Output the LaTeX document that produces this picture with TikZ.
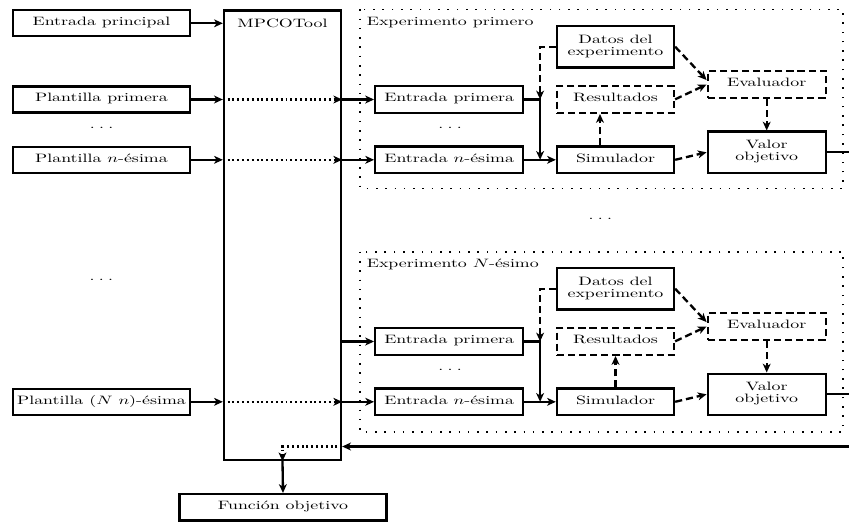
\documentclass[tikz,border=0pt]{standalone}
\usepackage{graphicx}
\usetikzlibrary{arrows.meta,calc}
\newdimen\pxu \pxu=0.56pt
\newcommand\tx[1]{\scalebox{1}[0.68]{\begin{tabular}{@{}c@{}}#1\end{tabular}}}
\newcommand\tdots{.\kern2.4pt.\kern2.4pt.}
\begin{document}
\begin{tikzpicture}[x=0.56pt,y=-0.56pt,
  box/.style={draw, line width=1.3pt, inner sep=0pt, font=\fontsize{10}{10}\selectfont},
  dbox/.style={box, dash pattern=on 4pt off 2.2pt},
  txt/.style={inner sep=0pt, font=\fontsize{10}{10}\selectfont},
  sz/.style 2 args={minimum width=#1*\pxu, minimum height=#2*\pxu},
  plain/.style={line width=1.3pt},
  conn/.style={plain, -{Stealth[length=4.9pt,width=4.4pt,inset=1.4pt]}},
  dconn/.style={conn, dash pattern=on 4pt off 2.2pt},
  dotconn/.style={conn, dash pattern=on 1.1pt off 1.6pt},
  frame/.style={line width=0.9pt, dash pattern=on 0.9pt off 4.3pt},
]
\useasboundingbox (0,0) rectangle (849,522);

% left column
\node[box, sz={177}{26}] (ep) at (101.5,23.3) {\tx{Entrada principal}};
\node[box, sz={177}{26}] (pp) at (101.5,99.5) {\tx{Plantilla primera}};
\node[txt] (ld1) at (101.5,126) {\tx{\tdots}};
\node[box, sz={177}{26}] (pn) at (101.5,159.8) {\tx{Plantilla $n$-ésima}};
\node[txt] (ld2) at (101.3,278.5) {\tx{\tdots}};
\node[box, sz={177}{26}] (pN) at (101.5,401.8) {\tx{Plantilla ($N$~$n$)-ésima}};

% MPCOTool
\node[box, sz={117}{449.5}] (mp) at (282.5,235.3) {};
\node[txt] (mpt) at (282.5,25) {\tx{MPCOTool}};
\node[box, sz={207}{26.4}] (fo) at (283,507.3) {\tx{Función objetivo}};

% experiment 1
\draw[frame] (360,9.3) rectangle (843,188.3);
\node[txt, anchor=west] (t1) at (366.5,23.3) {\tx{Experimento primero}};
\node[box, sz={148}{26.5}] (e1a) at (449.2,99.5) {\tx{Entrada primera}};
\node[txt] (e1dots) at (450,126) {\tx{\tdots}};
\node[box, sz={148}{26.5}] (e1b) at (449.2,159.8) {\tx{Entrada $n$-ésima}};
\node[box, sz={117}{41.3}] (e1d) at (615.5,46.7) {\tx{Datos del\\experimento}};
\node[dbox, sz={117}{27}] (e1r) at (615.5,99.3) {\tx{Resultados}};
\node[box, sz={117}{26.5}] (e1s) at (615.5,159.8) {\tx{Simulador}};
\node[dbox, sz={118}{27}] (e1ev) at (766.7,84.5) {\tx{Evaluador}};
\node[box, sz={118}{41.3}] (e1v) at (766.7,152.3) {\tx{Valor\\objetivo}};

% middle dots
\node[txt] (mdots) at (600.3,217.5) {\tx{\tdots}};

% experiment 2
\draw[frame] (360,251.7) rectangle (843,431.7);
\node[txt, anchor=west] (t2) at (366.5,265.3) {\tx{Experimento $N$-ésimo}};
\node[box, sz={148}{26.5}] (e2a) at (449.2,341.5) {\tx{Entrada primera}};
\node[txt] (e2dots) at (450,368) {\tx{\tdots}};
\node[box, sz={148}{26.5}] (e2b) at (449.2,401.8) {\tx{Entrada $n$-ésima}};
\node[box, sz={117}{41.3}] (e2d) at (615.5,288.7) {\tx{Datos del\\experimento}};
\node[dbox, sz={117}{27}] (e2r) at (615.5,341.3) {\tx{Resultados}};
\node[box, sz={117}{26.5}] (e2s) at (615.5,401.8) {\tx{Simulador}};
\node[dbox, sz={118}{27}] (e2ev) at (766.7,326.5) {\tx{Evaluador}};
\node[box, sz={118}{41.3}] (e2v) at (766.7,394.3) {\tx{Valor\\objetivo}};

\coordinate (fb) at (849,446.5);

% left inputs into MPCOTool
\draw[conn] (ep.east) -- (ep.east -| mp.west);
\draw[conn] (pp.east) -- (pp.east -| mp.west);
\draw[dotconn] (pp.east -| mp.west) -- (pp.east -| mp.east);
\draw[conn] (pp.east -| mp.east) -- (e1a.west);
\draw[conn] (pn.east) -- (pn.east -| mp.west);
\draw[dotconn] (pn.east -| mp.west) -- (pn.east -| mp.east);
\draw[conn] (pn.east -| mp.east) -- (e1b.west);
\draw[conn] (mp.east |- e2a.west) -- (e2a.west);
\draw[conn] (pN.east) -- (pN.east -| mp.west);
\draw[dotconn] (pN.east -| mp.west) -- (pN.east -| mp.east);
\draw[conn] (pN.east -| mp.east) -- (e2b.west);

% experiment 1 connectors
\coordinate (e1j) at ($(e1b.east)!0.5!(e1s.west)$);
\coordinate (e1k) at ($(e1a.east)!0.5!(e1r.west)$);
\draw[conn] (e1a.east) -| (e1j);
\draw[conn] (e1b.east) -- (e1s.west);
\draw[dconn] (e1d.west) -| (e1k);
\draw[dconn] ([xshift=-8.7pt]e1s.north) -- ([xshift=-8.7pt]e1r.south);
\draw[dconn] (e1r.east) -- (e1ev.west);
\draw[dconn] (e1d.east) -- ([yshift=2.5pt]e1ev.west);
\draw[dconn] (e1ev.south) -- (e1v.north);
\draw[dconn] (e1s.east) -- (e1v.west);
\draw[plain] (e1v.east) -- (e1v.east -| fb);

% experiment 2 connectors
\coordinate (e2j) at ($(e2b.east)!0.5!(e2s.west)$);
\coordinate (e2k) at ($(e2a.east)!0.5!(e2r.west)$);
\draw[conn] (e2a.east) -| (e2j);
\draw[conn] (e2b.east) -- (e2s.west);
\draw[dconn] (e2d.west) -| (e2k);
\draw[dconn] (e2s.north) -- (e2r.south);
\draw[dconn] (e2r.east) -- (e2ev.west);
\draw[dconn] (e2d.east) -- ([yshift=2.5pt]e2ev.west);
\draw[dconn] (e2ev.south) -- (e2v.north);
\draw[dconn] (e2s.east) -- (e2v.west);
\draw[plain] (e2v.east) -- (e2v.east -| fb);

% feedback to objective function
\draw[conn] (fb) -- (fb -| mp.east);
\draw[dotconn] (fb -| mp.east) -| (mp.south);
\draw[conn] (mp.south) -- (fo.north);
\end{tikzpicture}
\end{document}
